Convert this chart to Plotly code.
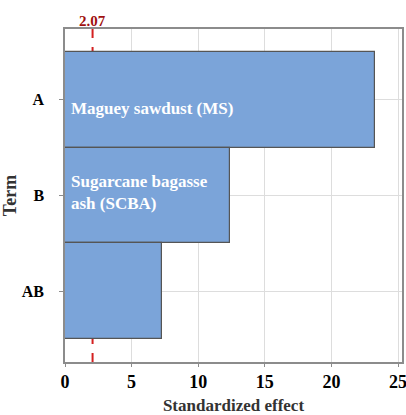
import plotly.graph_objects as go

terms = ["A", "B", "AB"]
effects = [23.27, 12.39, 7.26]
bar_labels = ["Maguey sawdust (MS)", "Sugarcane bagasse<br>ash (SCBA)", ""]
label_shift = [-9, 3, 0]
t_crit = 2.07

serif = "Liberation Serif, Times New Roman, serif"

fig = go.Figure()
fig.add_trace(go.Bar(
    y=terms, x=effects, orientation="h", width=1,
    marker=dict(color="#7BA4D9", line=dict(color="#555555", width=1.2)),
    hoverinfo="skip",
))

# labels inside the bars, left aligned
for term, label, dy in zip(terms, bar_labels, label_shift):
    if label:
        fig.add_annotation(x=0, y=term, xref="x", yref="y", xanchor="left", align="left",
                           xshift=4, yshift=dy, showarrow=False, text=label,
                           font=dict(family=serif, size=17, color="white", weight="bold"))

# critical t line, drawn under the bars
fig.add_shape(type="line", xref="x", yref="paper", x0=t_crit, x1=t_crit, y0=0, y1=1.0,
              line=dict(color="#D42020", width=2, dash="dash"), layer="below")
fig.add_annotation(x=t_crit, y=1.0, xref="x", yref="paper", yanchor="bottom", yshift=-2,
                   showarrow=False, text=f"{t_crit:.2f}",
                   font=dict(family=serif, size=15, color="#A01010", weight="bold"))

fig.update_layout(
    width=406, height=415,
    margin=dict(l=65, r=4, t=29, b=53),
    paper_bgcolor="white", plot_bgcolor="white",
    showlegend=False, bargap=0,
)
fig.update_xaxes(
    range=[0, 25.3], tickvals=[0, 5, 10, 15, 20, 25], automargin=False,
    ticklabeloverflow="allow",
    showgrid=True, gridcolor="#DDDDDD", gridwidth=1,
    showline=True, linecolor="#8C8C8C", linewidth=1.5, mirror=True,
    ticks="outside", ticklen=3, tickcolor="#8C8C8C",
    tickfont=dict(family=serif, size=18, color="black", weight="bold"),
    zeroline=False,
    title=dict(text="Standardized effect", standoff=13,
               font=dict(family=serif, size=17, color="#333333", weight="bold")),
)
fig.update_yaxes(
    categoryorder="array", categoryarray=terms, range=[2.74, -0.74], automargin=False,
    showgrid=True, gridcolor="#DDDDDD",
    showline=True, linecolor="#8C8C8C", linewidth=1.5, mirror=True,
    ticks="outside", ticklen=4, tickcolor="#8C8C8C",
    tickfont=dict(family=serif, size=16, color="black", weight="bold"),
    ticklabelstandoff=12,
    title=dict(text="Term", standoff=4,
               font=dict(family=serif, size=18, color="#333333", weight="bold")),
)

fig.write_html("out.html", config={"displayModeBar": False},
               post_script="document.body.style.margin='0';")
